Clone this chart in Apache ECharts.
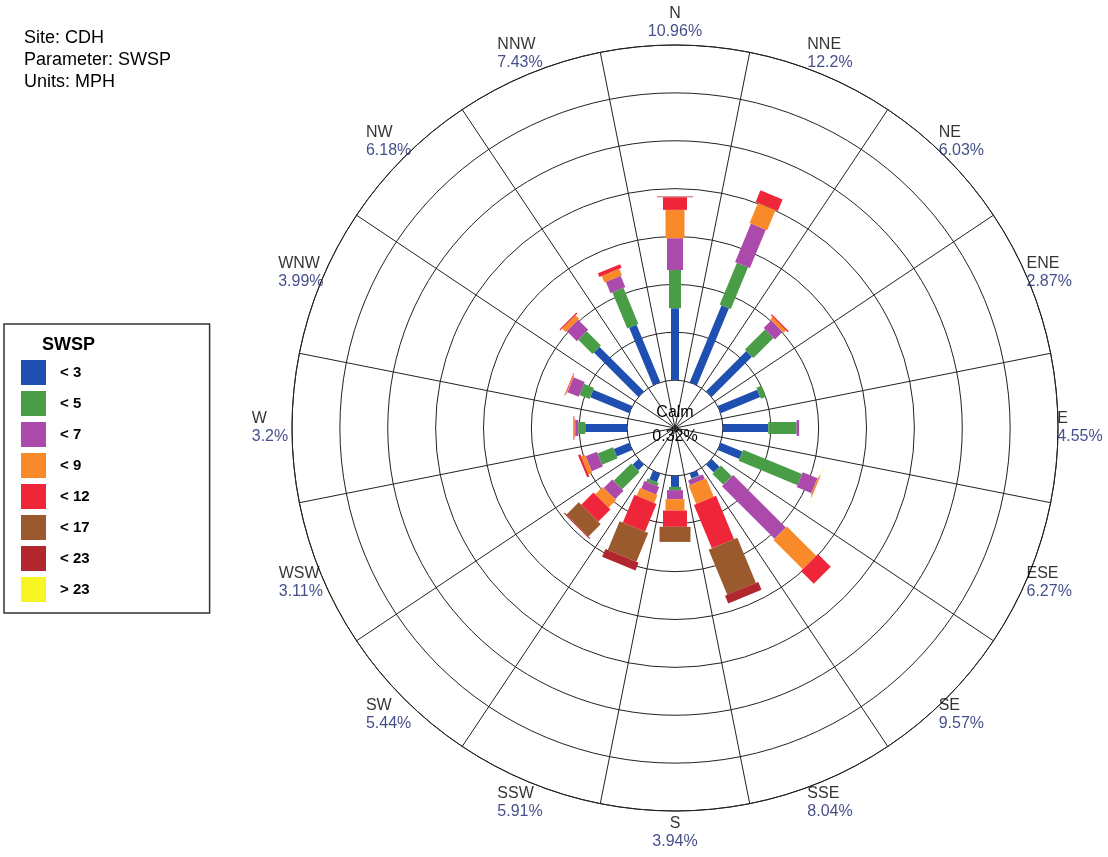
<!DOCTYPE html>
<html>
<head>
<meta charset="utf-8">
<title>Wind rose - CDH</title>
<script src="https://cdn.jsdelivr.net/npm/echarts@6/dist/echarts.min.js"></script>
<style>
    html, body { margin: 0; padding: 0; background: #fff; }
    #chart { width: 1108px; height: 857px; }
</style>
</head>
<body>
<div id="chart"></div>
<script>
// wind rose, site CDH, wind speed classes in MPH, values in % of hours

const directions = ['N', 'NNE', 'NE', 'ENE', 'E', 'ESE', 'SE', 'SSE',
    'S', 'SSW', 'SW', 'WSW', 'W', 'WNW', 'NW', 'NNW'];
const directionTotals = [10.96, 12.2, 6.03, 2.87, 4.55, 6.27, 9.57, 8.04,
    3.94, 5.91, 5.44, 3.11, 3.2, 3.99, 6.18, 7.43];
const speedClasses = ['< 3', '< 5', '< 7', '< 9', '< 12', '< 17', '< 23', '> 23'];

// one value per direction, same order as directions
const lt3 = [4.29, 4.98, 3.40, 2.55, 2.71, 1.40, 0.66, 0.31, 0.66, 0.55, 0.49, 1.00, 2.50, 2.52, 3.75, 3.72];
const lt5 = [2.28, 2.69, 1.70, 0.32, 1.69, 3.80, 0.92, 0.03, 0.19, 0.20, 1.47, 1.00, 0.42, 0.65, 1.20, 2.33];
const lt7 = [1.90, 2.48, 0.65, 0, 0.15, 0.95, 4.44, 0.30, 0.54, 0.50, 0.72, 0.72, 0.18, 0.72, 0.85, 0.73];
const lt9 = [1.69, 1.30, 0.20, 0, 0, 0.07, 2.47, 1.18, 0.68, 0.50, 0.63, 0.25, 0.05, 0.06, 0.30, 0.42];
const lt12 = [0.75, 0.75, 0.08, 0, 0, 0.03, 1.08, 2.80, 0.97, 1.80, 1.03, 0.14, 0.05, 0.04, 0.08, 0.23];
const lt17 = [0, 0, 0, 0, 0, 0, 0, 2.92, 0.90, 1.85, 1.03, 0, 0, 0, 0, 0];
const lt23 = [0.05, 0, 0, 0, 0, 0, 0, 0.50, 0, 0.51, 0.07, 0, 0, 0, 0, 0];
const gt23 = [0, 0, 0, 0, 0, 0.02, 0, 0, 0, 0, 0, 0, 0, 0, 0, 0];

const calm = 0.32;

const classValues = [lt3, lt5, lt7, lt9, lt12, lt17, lt23, gt23];
const classColors = ['#1f4fb0', '#4a9d47', '#ac4aac', '#f98a2a', '#ef2639', '#9a5a2e', '#b1272d', '#f7f524'];
const barWidths = [8, 12, 16, 19, 24, 31, 36, 40]; // px, wider for faster classes

const font = 'Liberation Sans, Arial, sans-serif';
const ringStep = 20 / 7;
const axisMin = -ringStep; // calm circle takes the first ring
const axisMax = 20;
const labelRadius = axisMin + (axisMax - axisMin) * 405 / 383;

let chart = echarts.init(document.getElementById('chart'));

function rectItem(width) {
    return function (params, api) {
        let dir = api.value(0);
        let from = api.value(1);
        let to = api.value(2);
        if (!(to > from)) {
            return;
        }
        let c = api.coord([axisMin, dir]);
        let e = api.coord([axisMax, dir]);
        let len = Math.hypot(e[0] - c[0], e[1] - c[1]);
        let ux = (e[0] - c[0]) / len, uy = (e[1] - c[1]) / len;
        let nx = -uy * width / 2, ny = ux * width / 2;
        let p0 = api.coord([from, dir]);
        let p1 = api.coord([to, dir]);
        return {
            type: 'polygon',
            shape: {
                points: [
                    [p0[0] + nx, p0[1] + ny],
                    [p1[0] + nx, p1[1] + ny],
                    [p1[0] - nx, p1[1] - ny],
                    [p0[0] - nx, p0[1] - ny]
                ]
            },
            style: { fill: api.visual('color') }
        };
    };
}

let stackBase = directions.map(() => 0);
let segSeries = classValues.map((vals, k) => {
    let data = vals.map((v, i) => {
        let s = stackBase[i];
        stackBase[i] += v;
        return [directions[i], s, s + v];
    });
    return {
        type: 'custom',
        name: speedClasses[k],
        coordinateSystem: 'polar',
        dimensions: ['dir', 'from', 'to'],
        encode: { angle: 'dir', radius: 'to' },
        itemStyle: { color: classColors[k] },
        renderItem: rectItem(barWidths[k]),
        data: data,
        z: 3
    };
});

let gridLine = { color: '#222', width: 1 };

let option = {
    animation: false,
    backgroundColor: '#fff',
    title: [{
        text: 'Site: CDH\nParameter: SWSP\nUnits: MPH',
        left: 19,
        top: 22,
        textStyle: { fontSize: 18, fontWeight: 'normal', lineHeight: 22, color: '#000', fontFamily: font }
    }, {
        text: 'SWSP',
        left: 37,
        top: 330,
        textStyle: { fontSize: 18, fontWeight: 'bold', lineHeight: 20, color: '#000', fontFamily: font }
    }],
    legend: {
        data: speedClasses,
        orient: 'vertical',
        left: 4,
        top: 324,
        padding: [36, 120, 11, 17],
        itemWidth: 25,
        itemHeight: 25,
        itemGap: 6,
        icon: 'rect',
        selectedMode: false,
        borderColor: '#333',
        borderWidth: 1.5,
        backgroundColor: '#fff',
        textStyle: { fontSize: 15, fontWeight: 'bold', color: '#000', fontFamily: font, padding: [0, 0, 0, 9] }
    },
    polar: {
        center: [675, 428],
        radius: [0, 383]
    },
    angleAxis: {
        type: 'category',
        data: directions,
        startAngle: 101.25,
        clockwise: true,
        boundaryGap: true,
        axisLine: { show: true, lineStyle: gridLine },
        axisTick: { show: false },
        axisLabel: { show: false },
        splitLine: { show: true, lineStyle: gridLine }
    },
    radiusAxis: {
        type: 'value',
        min: axisMin,
        max: axisMax,
        interval: ringStep,
        axisLine: { show: false },
        axisTick: { show: false },
        axisLabel: { show: false },
        splitLine: { show: true, lineStyle: gridLine }
    },
    graphic: [{
        type: 'text',
        x: 675,
        y: 425,
        z: 10,
        style: {
            text: 'Calm\n' + calm + '%',
            fontSize: 16,
            lineHeight: 24,
            fontFamily: font,
            fill: '#000',
            align: 'center',
            verticalAlign: 'middle'
        }
    }],
    series: segSeries.concat([{
        type: 'scatter',
        name: 'labels',
        coordinateSystem: 'polar',
        symbolSize: 0,
        silent: true,
        clip: false,
        data: directions.map(d => [labelRadius, d]),
        label: {
            show: true,
            position: 'inside',
            formatter: function (p) {
                let i = p.dataIndex;
                let mid = directions[i] === 'N' || directions[i] === 'S';
                let a = mid ? 'nc' : 'n';
                let b = mid ? 'pc' : 'p';
                return '{' + a + '|' + directions[i] + '}\n{' + b + '|' + directionTotals[i] + '%}';
            },
            rich: {
                n: { fontSize: 16, lineHeight: 18, color: '#000', fontFamily: font, align: 'left' },
                p: { fontSize: 16, lineHeight: 18, color: '#18236e', fontFamily: font, align: 'left' },
                nc: { fontSize: 16, lineHeight: 18, color: '#000', fontFamily: font, align: 'center' },
                pc: { fontSize: 16, lineHeight: 18, color: '#18236e', fontFamily: font, align: 'center' }
            }
        },
        z: 5
    }])
};

chart.setOption(option);
</script>
</body>
</html>
